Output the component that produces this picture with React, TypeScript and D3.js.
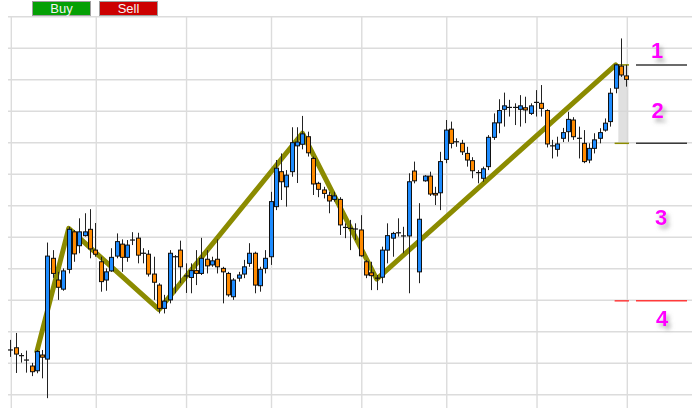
import React from "react";
import * as d3 from "d3";

// ---- data (price units; grid every 10) ----
const openVals = [
  14.2, 14.9, 12.4, 11.0, 9.1, 7.6, 12.6, 11.3, 43.3, 36.4, 33.5, 39.8, 51.7, 47.3, 50.5, 52.5, 45.9, 42.2, 36.4, 39.3,
  44.0, 47.8, 43.6, 49.1, 49.7, 44.9, 44.6, 38.3, 34.8, 27.4, 30.1, 43.8, 45.9, 37.7, 37.2, 39.4, 38.5, 43.0, 41.2, 43.0,
  40.1, 38.5, 31.1, 37.0, 38.3, 41.7, 44.9, 34.6, 40.1, 43.8, 59.7, 70.8, 66.0, 70.8, 79.0, 79.5, 81.9, 75.0, 67.1, 65.0,
  63.3, 62.0, 62.0, 53.1, 52.8, 52.6, 52.3, 42.2, 38.7, 37.0, 37.3, 45.9, 49.7, 51.4, 50.4, 50.4, 71.0, 39.0, 67.9, 69.4,
  63.9, 64.1, 74.7, 84.3, 80.3, 79.8, 76.6, 74.3, 70.5, 68.7, 72.4, 81.7, 86.3, 90.6, 91.2, 91.2, 90.6, 91.1, 89.3, 92.8,
  92.5, 90.2, 79.0, 77.9, 81.4, 83.5, 87.2, 81.4, 79.8, 74.5, 78.2, 81.4, 84.0, 86.7, 97.3, 104.3, 101.2,
];
const highVals = [
  17.4, 19.6, 13.2, 14.0, 10.1, 14.2, 14.2, 48.3, 45.9, 39.0, 40.1, 53.3, 52.3, 56.0, 57.6, 58.9, 54.5, 43.8, 40.1, 46.5,
  51.2, 49.3, 49.1, 51.6, 51.4, 46.5, 45.9, 43.8, 35.4, 31.7, 45.9, 44.3, 48.9, 41.7, 41.7, 45.9, 49.8, 45.9, 43.8, 49.3,
  40.6, 39.0, 37.0, 39.0, 42.8, 48.1, 45.4, 40.6, 45.9, 64.4, 74.5, 76.6, 71.3, 84.9, 84.9, 88.5, 83.5, 75.6, 67.6, 66.0,
  64.4, 64.4, 62.7, 54.4, 55.5, 54.4, 57.0, 42.8, 42.2, 38.0, 47.0, 54.4, 51.7, 56.0, 53.3, 70.3, 74.0, 60.8, 69.7, 70.8,
  66.0, 77.1, 87.2, 86.7, 81.4, 80.9, 78.7, 75.4, 71.3, 72.4, 82.4, 89.3, 93.8, 95.9, 93.6, 92.5, 95.1, 94.6, 92.5, 96.7,
  98.3, 90.6, 80.9, 81.9, 84.7, 89.8, 88.1, 85.1, 84.0, 79.8, 83.0, 84.6, 87.7, 97.3, 105.0, 113.1, 104.7,
];
const lowVals = [
  12.0, 6.9, 10.2, 7.0, 5.9, 6.8, 5.2, -1.1, 37.1, 30.1, 33.0, 38.5, 42.2, 44.9, 50.2, 43.3, 43.8, 32.7, 33.0, 39.0,
  43.3, 39.0, 42.2, 47.5, 41.7, 41.7, 37.5, 30.1, 25.8, 25.8, 29.0, 32.2, 35.4, 32.3, 32.2, 34.8, 38.0, 38.5, 40.6, 38.5,
  29.0, 31.1, 30.1, 35.9, 37.0, 40.6, 32.2, 32.7, 38.5, 41.2, 58.6, 61.8, 59.7, 69.2, 67.2, 77.9, 75.6, 63.4, 62.7, 62.3,
  57.6, 61.3, 50.7, 49.7, 45.9, 49.1, 43.8, 37.0, 33.2, 33.2, 35.4, 41.7, 43.8, 50.2, 44.9, 32.2, 67.1, 35.4, 67.6, 63.1,
  60.2, 58.6, 73.5, 78.2, 78.7, 76.1, 72.4, 68.7, 67.1, 67.6, 71.3, 80.9, 83.0, 85.1, 88.3, 85.6, 85.1, 86.2, 88.8, 88.3,
  88.3, 78.5, 75.0, 75.6, 80.2, 80.3, 80.9, 75.0, 73.5, 73.5, 76.6, 79.8, 83.5, 85.1, 95.7, 100.9, 97.8,
];
const closeVals = [
  14.2, 12.9, 12.4, 11.0, 7.3, 13.7, 11.9, 44.0, 38.5, 34.1, 39.3, 52.5, 44.7, 51.7, 51.7, 46.3, 44.6, 35.9, 39.0, 43.6,
  48.6, 43.6, 47.5, 49.1, 44.3, 44.9, 38.3, 35.7, 27.4, 29.7, 44.9, 43.8, 40.6, 37.7, 39.4, 38.5, 43.3, 40.9, 42.5, 40.6,
  39.0, 31.7, 36.4, 38.0, 40.6, 44.9, 34.8, 39.8, 43.3, 61.3, 71.9, 67.6, 69.7, 80.0, 80.2, 82.8, 76.8, 66.9, 65.2, 63.9,
  61.5, 63.1, 53.9, 53.1, 52.8, 52.6, 44.1, 38.0, 37.8, 37.0, 45.9, 50.5, 51.2, 51.4, 50.4, 67.6, 67.9, 55.7, 69.4, 63.7,
  63.4, 74.0, 84.0, 79.8, 80.3, 77.1, 74.5, 71.1, 70.5, 71.7, 81.7, 86.3, 90.2, 91.7, 91.2, 91.2, 91.7, 90.4, 91.7, 92.8,
  90.9, 79.6, 79.0, 79.6, 83.2, 87.4, 81.9, 81.4, 74.0, 78.2, 80.9, 83.2, 86.2, 95.7, 104.7, 101.5, 100.1,
];

// zigzag swing points (bar index, price)
const zigzagIdx = [5, 11, 28, 55, 69, 114];
const zigzagVals = [13.7, 52.8, 27.0, 83.0, 36.7, 104.7];

// target levels
const levelVals = [104.7, 79.8, 29.8];
const levelColors = ["#3a3a3a", "#3a3a3a", "#ff3b3b"];
const levelStubColors = ["#8b8b00", "#8b8b00", "#ff3b3b"];

// zone labels
const zoneLabels = ["1", "2", "3", "4"];
const zoneLabelVals = [109.3, 90.2, 56.5, 24.3];

// vertical grid positions (bar index of session starts)
const gridIdx = [0, 16, 33, 49, 66, 82, 99, 116];
const gridVals = d3.range(0, 121, 10);

const buttons = ["Buy", "Sell"];
const buttonColors = ["#05a005", "#cc0000"];

const W = 692;
const H = 408;

export default function App() {
  const x = d3.scaleLinear().domain([0, 116]).range([10.3, 626.3]);
  const y = d3.scaleLinear().domain([0, 120]).range([394.7, 16.7]);
  const cx = (i: number) => Math.round(x(i)) + 0.5;

  const zz = d3
    .line<number>()
    .x((_, k) => x(zigzagIdx[k]))
    .y((v) => y(v));

  const labelX = [657, 657.5, 661, 662];

  return (
    <svg
      width={W}
      height={H}
      style={{ position: "absolute", left: 0, top: 0, display: "block", background: "#fff" }}
      fontFamily="'Liberation Sans', Arial, sans-serif"
    >
      <defs>
        <filter id="sh" x="-50%" y="-50%" width="200%" height="200%">
          <feDropShadow dx="3" dy="4" stdDeviation="2" floodColor="#777" floodOpacity="0.55" />
        </filter>
      </defs>
      <rect x={0} y={0} width={W} height={H} fill="#fff" />

      {/* grid */}
      {gridVals.map((v) => (
        <line key={"h" + v} x1={8} x2={W} y1={y(v)} y2={y(v)} stroke="#dcdcdc" strokeWidth={1.4} />
      ))}
      {gridIdx.map((g) => (
        <line key={"v" + g} x1={x(g) + 1} x2={x(g) + 1} y1={y(120)} y2={H} stroke="#dcdcdc" strokeWidth={1.4} />
      ))}

      {/* buttons */}
      {buttons.map((b, k) => (
        <g key={b}>
          <rect x={32.5 + k * 67} y={1.5} width={58} height={14} fill={buttonColors[k]} stroke="#a0a0a0" strokeWidth={1} />
          <text x={61.5 + k * 67} y={12.8} textAnchor="middle" fontSize={13} fill="#f4f4f4">
            {b}
          </text>
        </g>
      ))}

      {/* shaded projection zone */}
      <rect
        x={x(114.5)}
        width={x(116.4) - x(114.5)}
        y={y(levelVals[0])}
        height={y(levelVals[1]) - y(levelVals[0])}
        fill="#d6d6d6"
        opacity={0.75}
      />

      {/* zigzag */}
      <path d={zz(zigzagVals) || ""} fill="none" stroke="#8b8b00" strokeWidth={5} strokeLinejoin="round" strokeLinecap="round" />

      {/* level stubs and lines */}
      {levelVals.map((v, k) => (
        <g key={"l" + k}>
          <line x1={x(113.8)} x2={x(116.5)} y1={y(v)} y2={y(v)} stroke={levelStubColors[k]} strokeWidth={1.5} />
          <line x1={636} x2={687} y1={y(v)} y2={y(v)} stroke={levelColors[k]} strokeWidth={1.5} />
        </g>
      ))}

      {/* candles */}
      {openVals.map((o, i) => {
        const c = closeVals[i];
        const xc = cx(i);
        const up = c > o;
        const doji = Math.abs(c - o) < 0.3;
        const top = y(Math.max(o, c));
        const bot = y(Math.min(o, c));
        return (
          <g key={i}>
            <line x1={xc} x2={xc} y1={y(highVals[i])} y2={y(lowVals[i])} stroke="#222" strokeWidth={1} />
            {doji ? (
              <line x1={xc - 2.5} x2={xc + 2.5} y1={top} y2={top} stroke="#111" strokeWidth={1.2} />
            ) : (
              <rect
                x={xc - 2}
                width={4}
                y={top}
                height={Math.max(bot - top, 1)}
                fill={up ? "#1e8cff" : "#ff8a00"}
                stroke="#111"
                strokeWidth={1}
              />
            )}
          </g>
        );
      })}

      {/* zone labels */}
      {zoneLabels.map((t, k) => (
        <text
          key={t}
          x={labelX[k]}
          y={y(zoneLabelVals[k])}
          dy="0.36em"
          textAnchor="middle"
          fontSize={22}
          fontWeight="bold"
          fill="#ff00ff"
          filter="url(#sh)"
        >
          {t}
        </text>
      ))}
    </svg>
  );
}
